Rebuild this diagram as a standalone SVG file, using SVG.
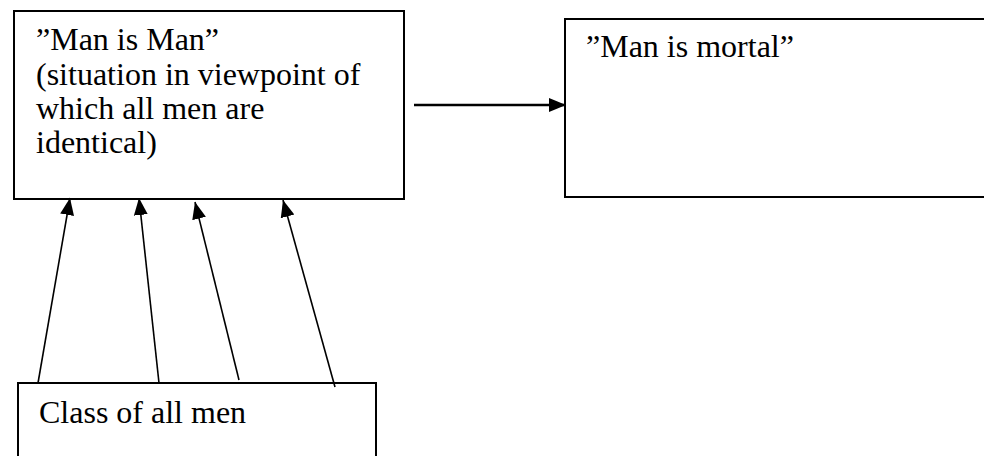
<svg xmlns="http://www.w3.org/2000/svg" width="984" height="456" viewBox="0 0 984 456">
<style>
.box{fill:#fff;stroke:#000;stroke-width:2}
.t{font-family:"Liberation Serif","Times New Roman",serif;font-size:32px;fill:#000}
.c{stroke:#000;stroke-width:1.6;fill:none}
.h{stroke:#000;stroke-width:2.4;fill:none}
</style>
<defs>
<marker id="ah" markerUnits="userSpaceOnUse" markerWidth="18" markerHeight="16" viewBox="0 0 18 16" refX="17" refY="8" orient="auto">
<path d="M0,1 L17,8 L0,15 Z" fill="#000"/>
</marker>
</defs>
<rect width="984" height="456" fill="#fff"/>
<g id="node-man-is-man">
<rect class="box" x="14" y="11" width="390" height="188"/>
<text class="t" x="36" y="50">”Man is Man”</text>
<text class="t" x="36" y="85">(situation in viewpoint of</text>
<text class="t" x="36" y="119">which all men are</text>
<text class="t" x="36" y="153">identical)</text>
</g>
<g id="node-man-is-mortal">
<rect class="box" x="565" y="19" width="440" height="178"/>
<text class="t" x="586" y="57">”Man is mortal”</text>
</g>
<g id="node-class-of-all-men">
<rect class="box" x="18" y="383" width="358" height="90"/>
<text class="t" x="39" y="423">Class of all men</text>
</g>
<g id="connectors">
<line class="h" x1="414" y1="105" x2="566" y2="105" marker-end="url(#ah)"/>
<line class="c" x1="38" y1="383" x2="70" y2="198" marker-end="url(#ah)"/>
<line class="c" x1="159" y1="383" x2="139" y2="198" marker-end="url(#ah)"/>
<line class="c" x1="239" y1="380" x2="195" y2="202" marker-end="url(#ah)"/>
<line class="c" x1="335" y1="387" x2="283" y2="200" marker-end="url(#ah)"/>
</g>
</svg>
